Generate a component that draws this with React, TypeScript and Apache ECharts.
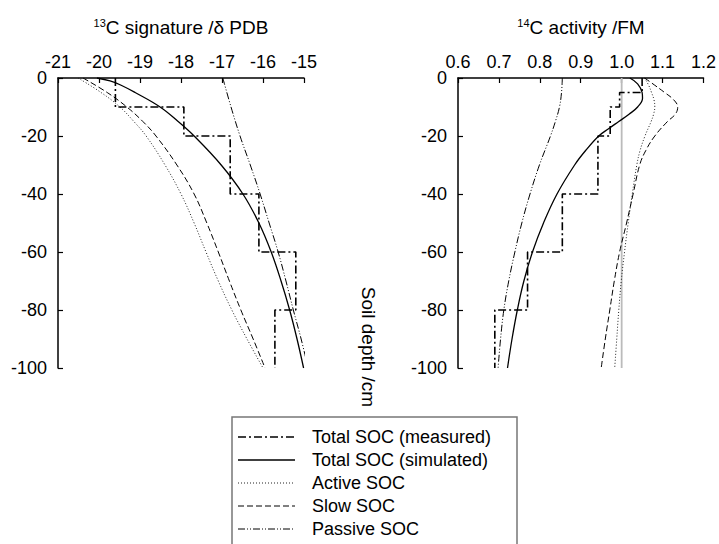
import React, { useEffect, useRef } from "react";
import * as echarts from "echarts";

const FONT = "'Liberation Sans', Arial, Helvetica, sans-serif";

// ---------- data: [value, depth(cm)] ----------
// 13C signature (left panel)
const c13Measured: [number, number][] = [
  [-19.6, 0], [-19.6, -10], [-17.93, -10], [-17.93, -20], [-16.8, -20], [-16.8, -40],
  [-16.1, -40], [-16.1, -60], [-15.2, -60], [-15.2, -80], [-15.71, -80], [-15.71, -100],
];
const c13Simulated: [number, number][] = [
  [-20.05, 0], [-19.73, -1], [-19.46, -2.5], [-19.12, -5], [-18.51, -10], [-18.07, -15],
  [-17.68, -20], [-17.02, -30], [-16.49, -40], [-16.1, -50], [-15.8, -60], [-15.56, -70],
  [-15.35, -80], [-15.17, -90], [-15.01, -100],
];
const c13Active: [number, number][] = [
  [-20.51, 0], [-19.95, -5], [-19.49, -10], [-19.15, -15], [-18.85, -20], [-18.39, -30],
  [-18.0, -40], [-17.68, -50], [-17.39, -60], [-17.09, -70], [-16.76, -80], [-16.39, -90],
  [-16.0, -100],
];
const c13Slow: [number, number][] = [
  [-20.39, 0], [-19.8, -5], [-19.32, -10], [-18.93, -15], [-18.61, -20], [-18.1, -30],
  [-17.68, -40], [-17.37, -50], [-17.09, -60], [-16.82, -70], [-16.54, -80], [-16.24, -90],
  [-15.95, -100],
];
const c13Passive: [number, number][] = [
  [-16.98, 0], [-16.78, -10], [-16.56, -20], [-16.31, -30], [-16.07, -40], [-15.85, -50],
  [-15.63, -60], [-15.44, -70], [-15.26, -80], [-15.07, -90], [-14.9, -100],
];

// 14C activity (right panel)
const c14Measured: [number, number][] = [
  [1.05, 0], [1.05, -5], [0.995, -5], [0.995, -10], [0.972, -10], [0.972, -20],
  [0.942, -20], [0.942, -40], [0.855, -40], [0.855, -60], [0.77, -60], [0.77, -80],
  [0.69, -80], [0.69, -100],
];
const c14Simulated: [number, number][] = [
  [1.02, 0], [1.039, -2], [1.05, -5], [1.051, -7], [1.039, -10], [1.018, -12.5], [0.993, -15],
  [0.968, -17.5], [0.944, -20], [0.912, -25], [0.885, -30], [0.842, -40], [0.809, -50],
  [0.782, -60], [0.761, -70], [0.745, -80], [0.732, -90], [0.721, -100],
];
const c14Active: [number, number][] = [
  [1.056, 0], [1.066, -2.5], [1.073, -5], [1.079, -7.5], [1.081, -10], [1.078, -12.5],
  [1.072, -15], [1.057, -20], [1.045, -25], [1.037, -30], [1.026, -40], [1.016, -50],
  [1.007, -60], [0.999, -70], [0.993, -80], [0.988, -90], [0.983, -100],
];
const c14Slow: [number, number][] = [
  [1.056, 0], [1.081, -2.5], [1.105, -5], [1.127, -7.5], [1.137, -10], [1.131, -12.5],
  [1.112, -15], [1.081, -20], [1.059, -25], [1.044, -30], [1.028, -40], [1.012, -50],
  [0.995, -60], [0.982, -70], [0.971, -80], [0.96, -90], [0.95, -100],
];
const c14Passive: [number, number][] = [
  [0.855, 0], [0.853, -5], [0.848, -10], [0.838, -15], [0.826, -20], [0.799, -30], [0.776, -40],
  [0.756, -50], [0.739, -60], [0.724, -70], [0.712, -80], [0.704, -90], [0.698, -100],
];
const c14Reference: [number, number][] = [[1.0, 0], [1.0, -100]];

const seriesNames = [
  "Total SOC (measured)",
  "Total SOC (simulated)",
  "Active SOC",
  "Slow SOC",
  "Passive SOC",
];

// ---------- styles ----------
const styles = [
  { type: [8, 3, 2, 3], width: 1.6, color: "#000", smooth: false },
  { type: "solid", width: 1.3, color: "#000", smooth: 0.4 },
  { type: [1, 2], width: 1, color: "#222", smooth: 0.4 },
  { type: [6, 3], width: 1, color: "#000", smooth: 0.4 },
  { type: [7, 2, 1, 2, 1, 2], width: 1, color: "#000", smooth: 0.4 },
];

const App: React.FC = () => {
  const ref = useRef<HTMLDivElement>(null);

  useEffect(() => {
    if (!ref.current) return;
    const chart = echarts.init(ref.current, undefined, { renderer: "svg" });

    const leftData = [c13Measured, c13Simulated, c13Active, c13Slow, c13Passive];
    const rightData = [c14Measured, c14Simulated, c14Active, c14Slow, c14Passive];

    const mk = (data: [number, number][], i: number, axis: number) => ({
      name: seriesNames[i],
      type: "line",
      xAxisIndex: axis,
      yAxisIndex: axis,
      data,
      symbol: "none",
      smooth: styles[i].smooth,
      clip: true,
      lineStyle: { color: styles[i].color, width: styles[i].width, type: styles[i].type as any },
      z: i === 0 ? 5 : 3,
    });

    const xAxisCommon = {
      type: "value",
      position: "top",
      axisLine: { show: true, lineStyle: { color: "#000", width: 1.5 } },
      axisTick: { show: true, inside: true, length: 5, lineStyle: { color: "#000", width: 1.2 } },
      splitLine: { show: false },
      axisLabel: { color: "#000", fontSize: 18, fontFamily: FONT, margin: 7 },
    };
    const yAxisCommon = {
      type: "value",
      min: -100,
      max: 0,
      interval: 20,
      axisLine: { show: true, lineStyle: { color: "#000", width: 1.5 } },
      axisTick: { show: true, inside: true, length: 5, lineStyle: { color: "#000", width: 1.2 } },
      splitLine: { show: false },
      axisLabel: { color: "#000", fontSize: 18, fontFamily: FONT, margin: 11 },
    };

    const legendElems: any[] = [
      {
        type: "rect",
        shape: { x: 232, y: 417, width: 285, height: 140 },
        style: { fill: "#fff", stroke: "#777", lineWidth: 1.5 },
      },
    ];
    seriesNames.forEach((name, i) => {
      const y = 437 + 23 * i;
      const st = styles[i];
      legendElems.push({
        type: "line",
        shape: { x1: 238, y1: y, x2: 295, y2: y },
        style: {
          stroke: st.color,
          lineWidth: st.width,
          lineDash: Array.isArray(st.type) ? st.type : null,
        },
      });
      legendElems.push({
        type: "text",
        x: 312,
        y: y,
        style: {
          text: name,
          fontSize: 18,
          fontFamily: FONT,
          fill: "#000",
          align: "left",
          textAlign: "left",
          verticalAlign: "middle",
          textVerticalAlign: "middle",
        },
      });
    });

    const titleRich = {
      sup: { fontSize: 11, fontFamily: FONT, fill: "#000", color: "#000", verticalAlign: "top" },
      main: { fontSize: 19, fontFamily: FONT, fill: "#000", color: "#000", verticalAlign: "bottom" },
    };

    chart.setOption({
      animation: false,
      backgroundColor: "#fff",
      textStyle: { fontFamily: FONT },
      grid: [
        { left: 58, top: 78, width: 246, height: 290 },
        { left: 458, top: 78, width: 246, height: 290 },
      ],
      xAxis: [
        { ...xAxisCommon, gridIndex: 0, min: -21, max: -15, interval: 1 },
        {
          ...xAxisCommon,
          gridIndex: 1,
          min: 0.6,
          max: 1.2,
          interval: 0.1,
          axisLabel: { ...xAxisCommon.axisLabel, formatter: (v: number) => v.toFixed(1) },
        },
      ],
      yAxis: [
        { ...yAxisCommon, gridIndex: 0 },
        { ...yAxisCommon, gridIndex: 1 },
      ],
      series: [
        ...leftData.map((d, i) => mk(d, i, 0)),
        {
          name: "reference",
          type: "line",
          xAxisIndex: 1,
          yAxisIndex: 1,
          data: c14Reference,
          symbol: "none",
          lineStyle: { color: "#bbb", width: 1.8 },
          z: 1,
        },
        ...rightData.map((d, i) => mk(d, i, 1)),
      ],
      graphic: [
        {
          type: "text",
          x: 181,
          y: 27,
          style: {
            text: "{sup|13}{main|C signature /δ PDB}",
            rich: titleRich,
            align: "center",
            textAlign: "center",
            verticalAlign: "middle",
            textVerticalAlign: "middle",
          },
        },
        {
          type: "text",
          x: 581,
          y: 27,
          style: {
            text: "{sup|14}{main|C activity /FM}",
            rich: titleRich,
            align: "center",
            textAlign: "center",
            verticalAlign: "middle",
            textVerticalAlign: "middle",
          },
        },
        {
          type: "text",
          x: 368,
          y: 347,
          rotation: -Math.PI / 2,
          style: {
            text: "Soil depth /cm",
            fontSize: 19,
            fontFamily: FONT,
            fill: "#000",
            align: "center",
            textAlign: "center",
            verticalAlign: "middle",
            textVerticalAlign: "middle",
          },
        },
        ...legendElems,
      ],
    });

    return () => chart.dispose();
  }, []);

  return (
    <div
      ref={ref}
      style={{ position: "absolute", left: 0, top: 0, width: 719, height: 544 }}
    />
  );
};

export default App;
